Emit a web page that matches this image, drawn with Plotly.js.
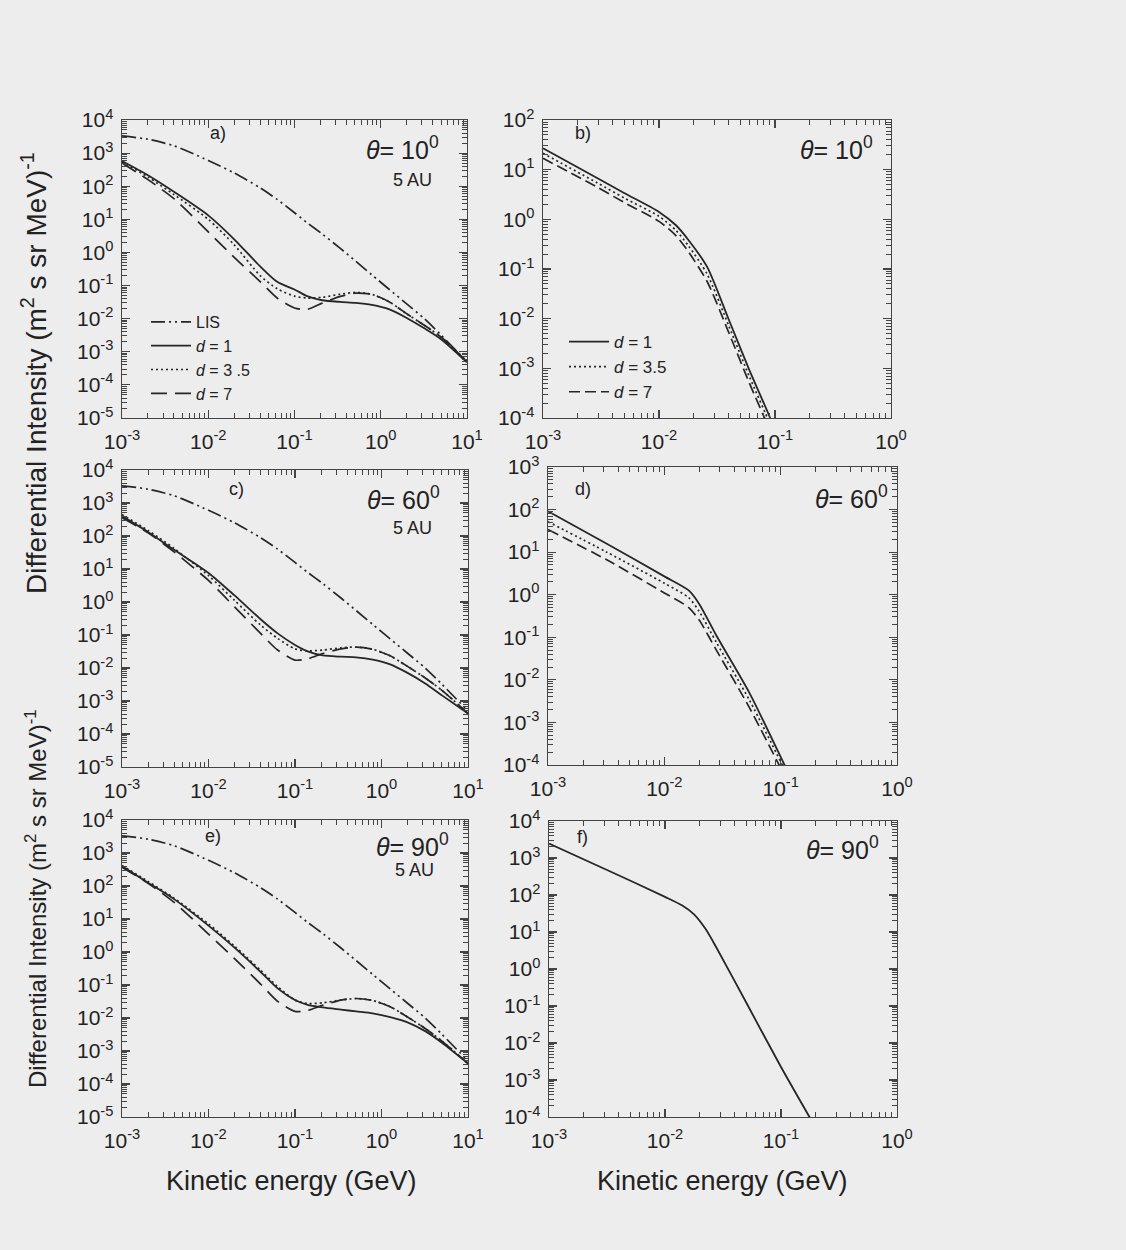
<!DOCTYPE html>
<html>
<head>
<meta charset="utf-8">
<script src="https://cdn.plot.ly/plotly-3.0.1.min.js"></script>
<style>
  html, body { margin: 0; padding: 0; background: #ededed; }
  #chart { width: 1126px; height: 1250px; }
</style>
</head>
<body>
<div id="chart"></div>
<script>
// Kinetic energy grid (GeV) for the 5 AU spectra (panels a, c, e)
const energyLeft = [0.001, 0.002, 0.004, 0.01, 0.02, 0.04, 0.063, 0.1, 0.14, 0.21, 0.34, 0.51, 0.79, 1.26, 2.0, 3.2, 5.0, 10];

// Local interstellar spectrum (same in a, c, e)
const lis = [3300, 2630, 1660, 600, 251, 89, 40, 15.8, 7.9, 3.6, 1.32, 0.55, 0.21, 0.076, 0.028, 0.01, 0.0032, 0.0005];

// Panel a: theta = 10 deg, 5 AU
const aD1  = [575, 214, 68, 13.2, 2.5, 0.38, 0.13, 0.076, 0.048, 0.036, 0.032, 0.030, 0.026, 0.019, 0.0105, 0.0051, 0.0024, 0.00048];
const aD35 = [550, 190, 56, 10, 1.7, 0.2, 0.08, 0.048, 0.042, 0.044, 0.055, 0.062, 0.054, 0.032, 0.014, 0.0063, 0.0028, 0.0005];
const aD7  = [500, 158, 42, 4.2, 0.71, 0.132, 0.042, 0.021, 0.019, 0.0295, 0.047, 0.059, 0.054, 0.032, 0.014, 0.0063, 0.0028, 0.0005];

// Panel c: theta = 60 deg, 5 AU
const cD1  = [400, 132, 38, 7.6, 1.58, 0.3, 0.112, 0.050, 0.032, 0.024, 0.022, 0.021, 0.018, 0.0129, 0.0071, 0.0034, 0.00148, 0.00042];
const cD35 = [447, 148, 42, 6.3, 1.12, 0.2, 0.079, 0.038, 0.033, 0.035, 0.041, 0.043, 0.037, 0.0234, 0.0112, 0.005, 0.0021, 0.00042];
const cD7  = [355, 126, 33, 4.5, 0.71, 0.112, 0.035, 0.0174, 0.019, 0.0275, 0.038, 0.043, 0.037, 0.0234, 0.0112, 0.005, 0.0021, 0.00042];

// Panel e: theta = 90 deg, 5 AU
const eD1  = [400, 126, 40, 6.3, 1.35, 0.25, 0.079, 0.035, 0.025, 0.021, 0.018, 0.0158, 0.0138, 0.0107, 0.0074, 0.004, 0.00178, 0.00042];
const eD35 = [417, 138, 43, 7.1, 1.5, 0.28, 0.089, 0.035, 0.0275, 0.029, 0.035, 0.039, 0.034, 0.022, 0.0107, 0.0048, 0.002, 0.00042];
const eD7  = [372, 120, 32, 3.5, 0.63, 0.107, 0.032, 0.0158, 0.017, 0.0245, 0.035, 0.039, 0.034, 0.022, 0.0107, 0.0048, 0.002, 0.00042];

// Panel b: theta = 10 deg (inner heliosphere)
const energyB = [0.001, 0.0029, 0.005, 0.01, 0.014, 0.018, 0.026, 0.04, 0.06, 0.09, 0.1];
const bD1  = [27, 6.9, 3.4, 1.41, 0.76, 0.38, 0.11, 0.0095, 0.00093, 0.000105, 0.000054];
const bD35 = [21.4, 5.5, 2.7, 1.15, 0.6, 0.29, 0.079, 0.0071, 0.00069, 0.000078, 0.00004];
const bD7  = [17, 4.5, 2.19, 0.91, 0.47, 0.22, 0.056, 0.0052, 0.00051, 0.0000575, 0.00003];

// Panel d: theta = 60 deg
const energyD = [0.001, 0.0032, 0.01, 0.0162, 0.02, 0.028, 0.054, 0.108, 0.12];
const dD1  = [91, 15.8, 2.7, 1.26, 0.6, 0.11, 0.0049, 0.0001, 0.000056];
const dD35 = [52, 10, 1.86, 0.85, 0.4, 0.076, 0.0033, 0.000079, 0.000045];
const dD7  = [34, 6.6, 1.1, 0.5, 0.25, 0.05, 0.0022, 0.000056, 0.000032];

// Panel f: theta = 90 deg
const energyF = [0.001, 0.0032, 0.01, 0.0141, 0.0178, 0.0224, 0.0275, 0.05, 0.1, 0.176, 0.2];
const fD1  = [2450, 468, 89, 52, 30, 12, 4.0, 0.126, 0.00224, 0.0001, 0.00005];

// Tick labels
const xTicksLeft  = [1e-3, 1e-2, 1e-1, 1e0, 1e1];
const xTextLeft   = ['10<sup>-3</sup>', '10<sup>-2</sup>', '10<sup>-1</sup>', '10<sup>0</sup>', '10<sup>1</sup>'];
const xTicksRight = [1e-3, 1e-2, 1e-1, 1e0];
const xTextRight  = ['10<sup>-3</sup>', '10<sup>-2</sup>', '10<sup>-1</sup>', '10<sup>0</sup>'];
const yExpLeft = [-5, -4, -3, -2, -1, 0, 1, 2, 3, 4];
const yExpB = [-4, -3, -2, -1, 0, 1, 2];
const yExpD = [-4, -3, -2, -1, 0, 1, 2, 3];
const yExpF = [-4, -3, -2, -1, 0, 1, 2, 3, 4];

const panelLabels = ['a)', 'b)', 'c)', 'd)', 'e)', 'f)'];
const angleLabels = ['10', '10', '60', '60', '90', '90'];

const INK = '#262626';
const FONT = 'Liberation Sans, Arial, Helvetica, sans-serif';

const styles = {
  lis:  { color: INK, width: 1.7, dash: '14px,4px,2px,4px,2px,4px' },
  d1:   { color: INK, width: 1.8, dash: 'solid' },
  d35:  { color: INK, width: 1.7, dash: '2px,3px' },
  d7:   { color: INK, width: 1.7, dash: '16px,8px' },
  d7s:  { color: INK, width: 1.7, dash: '11px,5px' }
};

function line(x, y, xa, ya, st, name, legend) {
  return {
    x: x, y: y, xaxis: xa, yaxis: ya, type: 'scatter', mode: 'lines',
    line: Object.assign({ shape: 'spline', smoothing: 0.7 }, st),
    name: name || '', showlegend: !!legend, legend: legend || 'legend',
    hoverinfo: 'skip'
  };
}

const traces = [
  // a
  line(energyLeft, lis,  'x',  'y',  styles.lis, 'LIS', 'legend'),
  line(energyLeft, aD1,  'x',  'y',  styles.d1,  '<i>d</i> = 1', 'legend'),
  line(energyLeft, aD35, 'x',  'y',  styles.d35, '<i>d</i> = 3 .5', 'legend'),
  line(energyLeft, aD7,  'x',  'y',  styles.d7,  '<i>d</i> = 7', 'legend'),
  // b
  line(energyB, bD1,  'x2', 'y2', styles.d1,  '<i>d</i> = 1', 'legend2'),
  line(energyB, bD35, 'x2', 'y2', styles.d35, '<i>d</i> = 3.5', 'legend2'),
  line(energyB, bD7,  'x2', 'y2', styles.d7s, '<i>d</i> = 7', 'legend2'),
  // c
  line(energyLeft, lis,  'x3', 'y3', styles.lis),
  line(energyLeft, cD1,  'x3', 'y3', styles.d1),
  line(energyLeft, cD35, 'x3', 'y3', styles.d35),
  line(energyLeft, cD7,  'x3', 'y3', styles.d7),
  // d
  line(energyD, dD1,  'x4', 'y4', styles.d1),
  line(energyD, dD35, 'x4', 'y4', styles.d35),
  line(energyD, dD7,  'x4', 'y4', styles.d7s),
  // e
  line(energyLeft, lis,  'x5', 'y5', styles.lis),
  line(energyLeft, eD1,  'x5', 'y5', styles.d1),
  line(energyLeft, eD35, 'x5', 'y5', styles.d35),
  line(energyLeft, eD7,  'x5', 'y5', styles.d7),
  // f
  line(energyF, fD1, 'x6', 'y6', styles.d1)
];

const W = 1126, H = 1250;
// subplot frames in pixels: [left, right, top, bottom]
const frames = [
  [122, 467, 120, 418],
  [543, 891, 120, 418],
  [122, 468, 470, 767],
  [548, 897, 467, 765],
  [122, 468, 820, 1117],
  [549, 897, 821, 1117]
];

function expText(e) { return '10<sup>' + e + '</sup>'; }

function axisBase() {
  return {
    type: 'log', showgrid: false, zeroline: false,
    showline: true, linecolor: '#444', linewidth: 1.4, mirror: 'allticks',
    ticks: 'inside', ticklen: 8, tickwidth: 1.2, tickcolor: '#444',
    minor: { ticks: 'inside', ticklen: 5, tickwidth: 1, tickcolor: '#444', dtick: 'D1', showgrid: false },
    tickfont: { family: FONT, size: 21, color: '#222' },
    fixedrange: true
  };
}

const layout = {
  width: W, height: H,
  margin: { l: 0, r: 0, t: 0, b: 0 },
  paper_bgcolor: '#ededed', plot_bgcolor: '#ededed',
  font: { family: FONT, color: '#222' },
  showlegend: true,
  legend: {
    x: 146 / W, y: 1 - 305 / H, xanchor: 'left', yanchor: 'top',
    bgcolor: 'rgba(0,0,0,0)', borderwidth: 0, tracegroupgap: 0,
    font: { family: FONT, size: 16, color: '#222' }, itemwidth: 40
  },
  legend2: {
    x: 564 / W, y: 1 - 324 / H, xanchor: 'left', yanchor: 'top',
    bgcolor: 'rgba(0,0,0,0)', borderwidth: 0, tracegroupgap: 0,
    font: { family: FONT, size: 17, color: '#222' }, itemwidth: 40
  },
  annotations: [],
  shapes: []
};

const yExps = [yExpLeft, yExpB, yExpLeft, yExpD, yExpLeft, yExpF];
frames.forEach(function (f, i) {
  const n = i === 0 ? '' : String(i + 1);
  const left = i % 2 === 0;
  const xa = axisBase();
  xa.domain = [f[0] / W, f[1] / W];
  xa.anchor = 'y' + n;
  xa.range = left ? [-3, 1] : [-3, 0];
  xa.tickmode = 'array';
  xa.tickvals = left ? xTicksLeft : xTicksRight;
  xa.ticktext = left ? xTextLeft : xTextRight;
  xa.ticklabelstandoff = 4;
  const ya = axisBase();
  ya.domain = [1 - f[3] / H, 1 - f[2] / H];
  ya.anchor = 'x' + n;
  const ex = yExps[i];
  ya.range = [ex[0], ex[ex.length - 1]];
  ya.tickmode = 'array';
  ya.tickvals = ex.map(function (e) { return Math.pow(10, e); });
  ya.ticktext = ex.map(expText);
  ya.ticklabelstandoff = 3;
  layout['xaxis' + n] = xa;
  layout['yaxis' + n] = ya;
});

// Panel letters, angle labels and distance labels
const letterPos = [[0.278, 0.955], [0.115, 0.955], [0.332, 0.935], [0.10, 0.925], [0.263, 0.945], [0.097, 0.945]];
const thetaPos  = [[0.925, 0.906], [0.955, 0.906], [0.925, 0.906], [0.98, 0.9], [0.95, 0.915], [0.955, 0.91]];
panelLabels.forEach(function (lab, i) {
  const n = i === 0 ? '' : String(i + 1);
  layout.annotations.push({
    text: lab, xref: 'x' + n + ' domain', yref: 'y' + n + ' domain',
    x: letterPos[i][0], y: letterPos[i][1], xanchor: 'center', yanchor: 'middle',
    showarrow: false, font: { family: FONT, size: 18, color: '#222' }
  });
  layout.annotations.push({
    text: '<i>θ</i>= ' + angleLabels[i] + '<sup>0</sup>', xref: 'x' + n + ' domain', yref: 'y' + n + ' domain',
    x: thetaPos[i][0], y: thetaPos[i][1], xanchor: 'right', yanchor: 'middle',
    showarrow: false, font: { family: FONT, size: 25, color: '#222' }
  });
});
[[0, 0.843, 0.80], [2, 0.84, 0.805], [4, 0.845, 0.83]].forEach(function (p) {
  const n = p[0] === 0 ? '' : String(p[0] + 1);
  layout.annotations.push({
    text: '5 AU', xref: 'x' + n + ' domain', yref: 'y' + n + ' domain',
    x: p[1], y: p[2], xanchor: 'center', yanchor: 'middle',
    showarrow: false, font: { family: FONT, size: 18, color: '#222' }
  });
});

// Axis titles
const yTitle = 'Differential Intensity (m<sup>2</sup> s sr MeV)<sup>-1</sup>';
layout.annotations.push({
  text: yTitle, xref: 'paper', yref: 'paper', x: 34 / W, y: 1 - 373 / H,
  xanchor: 'center', yanchor: 'middle', textangle: -90, showarrow: false,
  font: { family: FONT, size: 28, color: '#222' }
});
layout.annotations.push({
  text: yTitle, xref: 'paper', yref: 'paper', x: 36 / W, y: 1 - 899 / H,
  xanchor: 'center', yanchor: 'middle', textangle: -90, showarrow: false,
  font: { family: FONT, size: 24, color: '#222' }
});
[[291, 1181], [722, 1181]].forEach(function (p) {
  layout.annotations.push({
    text: 'Kinetic energy (GeV)', xref: 'paper', yref: 'paper', x: p[0] / W, y: 1 - p[1] / H,
    xanchor: 'center', yanchor: 'middle', showarrow: false,
    font: { family: FONT, size: 27, color: '#222' }
  });
});

Plotly.newPlot('chart', traces, layout, { staticPlot: true, displayModeBar: false });
</script>
</body>
</html>
